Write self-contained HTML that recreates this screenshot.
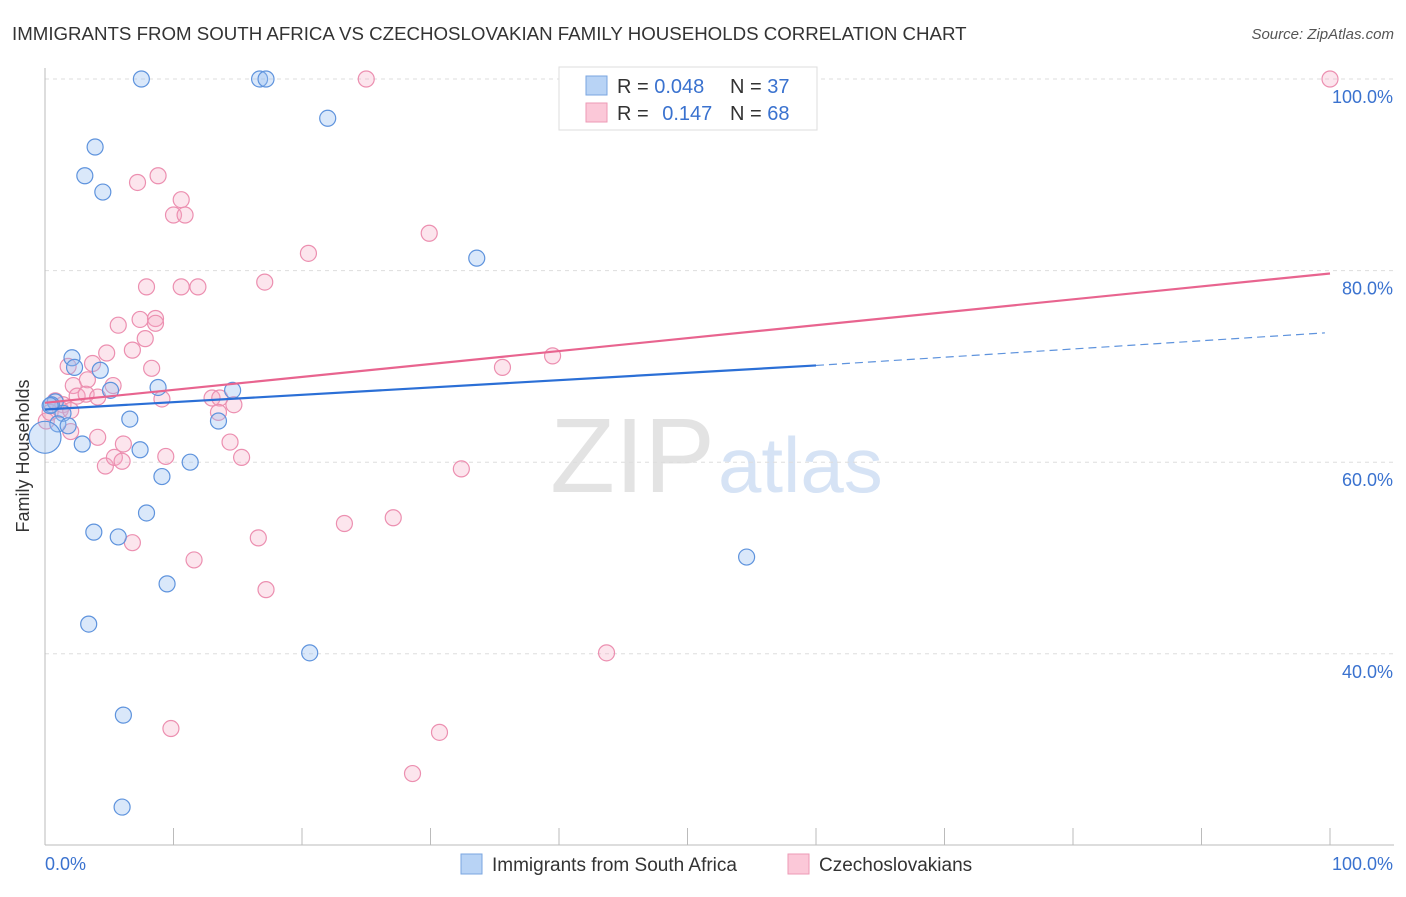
<!DOCTYPE html>
<html><head><meta charset="utf-8"><style>
body{margin:0;background:#fff;font-family:"Liberation Sans",sans-serif}
svg text{font-family:"Liberation Sans",sans-serif}
</style></head><body>
<svg id="c" width="1406" height="892" xmlns="http://www.w3.org/2000/svg">
<text x="12" y="40" font-size="18.7" fill="#333">IMMIGRANTS FROM SOUTH AFRICA VS CZECHOSLOVAKIAN FAMILY HOUSEHOLDS CORRELATION CHART</text>
<text x="1394" y="39" font-size="15" fill="#555" font-style="italic" text-anchor="end">Source: ZipAtlas.com</text>
<text x="715" y="492" font-size="106" fill="#e3e3e3" text-anchor="end" font-family="Liberation Serif">ZIP</text>
<text x="718" y="492" font-size="78" fill="#d6e3f5">atlas</text>
<g id="grid"></g><g id="pts"></g><g id="lines"></g>
<text x="29" y="456" font-size="18" fill="#333" text-anchor="middle" transform="rotate(-90 29 456)">Family Households</text>
<g>
<rect x="559" y="67" width="258" height="63" fill="#fff" stroke="#ddd"/>
<rect x="586" y="76" width="21" height="19" fill="#b8d3f5" stroke="#7aa6e0"/>
<rect x="586" y="103" width="21" height="19" fill="#fbc8d8" stroke="#ec9ab6"/>
<text x="617" y="93" font-size="20" fill="#333">R = <tspan fill="#3a72cf">0.048</tspan></text>
<text x="730" y="93" font-size="20" fill="#333">N = <tspan fill="#3a72cf">37</tspan></text>
<text x="617" y="120" font-size="20" fill="#333">R = <tspan fill="#3a72cf" dx="8">0.147</tspan></text>
<text x="730" y="120" font-size="20" fill="#333">N = <tspan fill="#3a72cf">68</tspan></text>
</g>
<g>
<rect x="461" y="854" width="21" height="20" fill="#b8d3f5" stroke="#7aa6e0"/>
<text x="492" y="871" font-size="19" fill="#333">Immigrants from South Africa</text>
<rect x="788" y="854" width="21" height="20" fill="#fbc8d8" stroke="#ec9ab6"/>
<text x="819" y="871" font-size="19" fill="#333">Czechoslovakians</text>
</g>
</svg>
<script>
const yTicks=[100,80,60,40];
const xTickLabels=["0.0%","100.0%"];
const blueX=[7.5,16.7,17.2,22,3.9,3.1,4.5,33.6,2.1,2.3,4.3,8.8,5.1,14.6,0.8,0.5,1.4,6.6,13.5,1,1.8,2.9,7.4,11.3,9.1,7.9,3.8,5.7,54.6,9.5,3.4,20.6,6.1,6,0,0.4];
const blueY=[100,100,100,95.9,92.9,89.9,88.2,81.3,70.9,69.9,69.6,67.8,67.5,67.5,66.3,66,65.1,64.5,64.3,64,63.8,61.9,61.3,60,58.5,54.7,52.7,52.2,50.1,47.3,43.1,40.1,33.6,24,62.6,65.9];
const pinkX=[25,100,8.8,7.2,10.6,10,10.9,20.5,29.9,17.1,7.9,10.6,11.9,7.4,8.6,5.7,8.6,7.8,6.8,4.8,8.3,1.8,3.7,35.6,39.5,2.2,5.3,3.3,2.5,3.2,4.1,9.1,13,13.6,14.7,13.5,1.4,1.2,2,0.8,4.1,14.4,6.1,2,4.7,5.4,6,9.4,15.3,32.4,23.3,27.1,16.6,6.8,11.6,17.2,43.7,9.8,30.7,28.6,0.1,0.4];
const pinkY=[100,100,89.9,89.2,87.4,85.8,85.8,81.8,83.9,78.8,78.3,78.3,78.3,74.9,75,74.3,74.5,72.9,71.7,71.4,69.8,70,70.3,69.9,71.1,68,68,68.6,66.9,67.1,66.8,66.6,66.7,66.7,66,65.2,66,65.5,65.4,66.4,62.6,62.1,61.9,63.2,59.6,60.5,60.1,60.6,60.5,59.3,53.6,54.2,52.1,51.6,49.8,46.7,40.1,32.2,31.8,27.5,64.3,65.2];
const blueTrend=[[0,65.5],[60,70.1],[99.6,73.5]];
const pinkTrend=[[0,66.2],[100,79.7]];
const X=v=>45+v*12.85, Y=v=>79+(100-v)*9.58;
const ns="http://www.w3.org/2000/svg";
function mk(t,a,p){const e=document.createElementNS(ns,t);for(const k in a)e.setAttribute(k,a[k]);p.appendChild(e);return e;}
const g=document.getElementById('grid');
yTicks.forEach(v=>{const l=mk('line',{x1:45,x2:1394,y1:Y(v),y2:Y(v),stroke:'#ddd','stroke-dasharray':'4,4'},g);


const t=mk('text',{x:1393,y:Y(v)+24,'font-size':18,fill:'#3a72cf','text-anchor':'end'},g);t.textContent=v.toFixed(1)+'%';

});
mk('line',{x1:45,x2:45,y1:68,y2:845,stroke:'#bbb'},g);
mk('line',{x1:45,x2:1394,y1:845,y2:845,stroke:'#bbb'},g);
for(let i=0;i<=10;i++){mk('line',{x1:X(i*10),x2:X(i*10),y1:828,y2:845,stroke:'#bbb'},g);}
const t0=mk('text',{x:45,y:870,'font-size':18,fill:'#3a72cf'},g);t0.textContent=xTickLabels[0];


const t1=mk('text',{x:1393,y:870,'font-size':18,fill:'#3a72cf','text-anchor':'end'},g);t1.textContent=xTickLabels[1];


const p=document.getElementById('pts');
pinkX.forEach((x,i)=>{const c=mk('circle',{cx:X(x),cy:Y(pinkY[i]),r:8,fill:'rgba(246,170,195,0.3)',stroke:'#ec8fb0','stroke-width':1.2},p);

});
blueX.forEach((x,i)=>{const c=mk('circle',{cx:X(x),cy:Y(blueY[i]),r:i==34?16:8,fill:'rgba(150,190,240,0.35)',stroke:'#5e93dd','stroke-width':1.2},p);

});
const L=document.getElementById('lines');
const b1=mk('line',{x1:X(blueTrend[0][0]),y1:Y(blueTrend[0][1]),x2:X(blueTrend[1][0]),y2:Y(blueTrend[1][1]),stroke:'#2b6fd6','stroke-width':2.2},L);


const b2=mk('line',{x1:X(blueTrend[1][0]),y1:Y(blueTrend[1][1]),x2:X(blueTrend[2][0]),y2:Y(blueTrend[2][1]),stroke:'#5e93dd','stroke-width':1.2,'stroke-dasharray':'8,5'},L);


const pl=mk('line',{x1:X(pinkTrend[0][0]),y1:Y(pinkTrend[0][1]),x2:X(pinkTrend[1][0]),y2:Y(pinkTrend[1][1]),stroke:'#e8648f','stroke-width':2.2},L);


</script>
</body></html>
